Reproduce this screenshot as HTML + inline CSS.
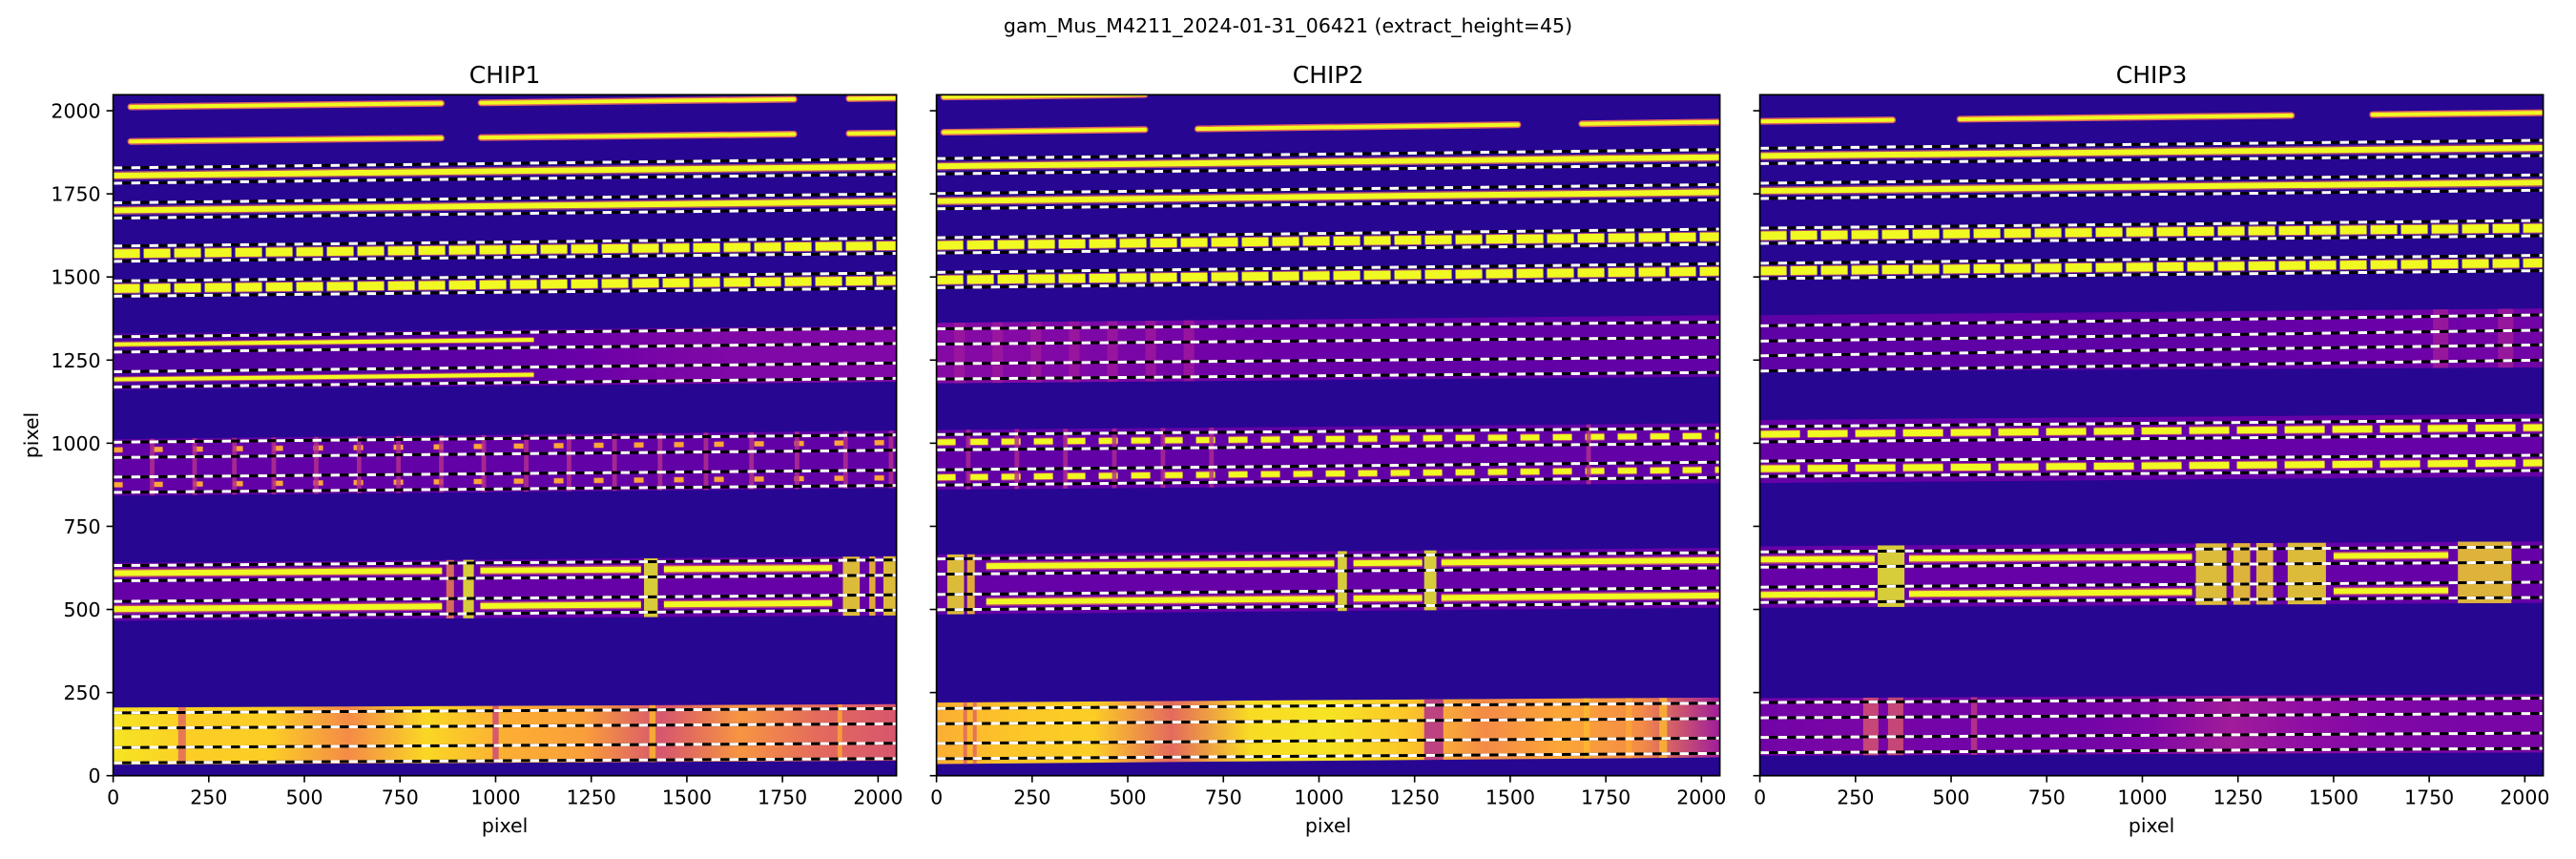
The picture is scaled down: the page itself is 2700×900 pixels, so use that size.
<!DOCTYPE html>
<html><head><meta charset="utf-8"><title>gam_Mus trace plot</title>
<style>
html,body{margin:0;padding:0;background:#fff;}
svg{display:block;}
text{font-family:"DejaVu Sans","Liberation Sans",sans-serif;fill:#000;}
</style></head>
<body>
<svg id="fig" xmlns="http://www.w3.org/2000/svg" width="2700" height="900" viewBox="0 0 2700 900">
<rect x="0" y="0" width="2700" height="900" fill="#fff"/>
<defs id="defs"></defs>
<text x="1350" y="34" font-size="20.5" text-anchor="middle">gam_Mus_M4211_2024-01-31_06421  (extract_height=45)</text>
<g id="plots"></g>
</svg>
<script>
const chipNames = ["CHIP1", "CHIP2", "CHIP3"];
const tickValues = [0, 250, 500, 750, 1000, 1250, 1500, 1750, 2000];
const plainStart = [[2011, 1907], [2041, 1935], [1968]];
const plainEnd = [[2038, 1933], [2070, 1966], [1994]];
const plainSegs = [
  [[[46, 858], [962, 1780], [1924, 2048]], [[46, 858], [962, 1780], [1924, 2048]]],
  [[[19, 545]], [[19, 545], [683, 1520], [1687, 2048]]],
  [[[5, 347], [523, 1390], [1602, 2048]]]
];
const apStart = [
  [1805, 1700, 1570, 1465, 1297, 1192, 980, 875, 609, 501, 166, 61.5],
  [1833, 1728, 1595, 1491, 1321, 1216, 1003, 897, 629, 522, 179, 74],
  [1864, 1759, 1624, 1518, 1330, 1240, 1027, 923, 650, 544, 197, 92]
];
const apEnd = [
  [1832, 1727, 1594, 1489, 1323, 1218, 1002, 896, 626, 521, 179, 74.5],
  [1860, 1755, 1621, 1517, 1341, 1236, 1022, 920, 648, 542, 195, 90],
  [1888, 1784, 1647, 1542, 1363, 1273, 1047, 941, 665, 559, 210, 105]
];
const apStyle = [
  ["solid", "solid", "blob", "blob", "fade", "fade", "dot", "dot", "seg", "seg", "none", "none"],
  ["solid", "solid", "blob", "blob", "none", "none", "blob2", "blob2", "seg", "seg", "none", "none"],
  ["solid", "solid", "blob", "blob", "none", "none", "blob3", "blob3", "seg", "seg", "none", "none"]
];
const apSegs = [
  [[0, 860], [960, 1380], [1440, 1880]],
  [[130, 1040], [1090, 1270], [1320, 2048]],
  [[0, 300], [390, 1130], [1500, 1800]]
];
const halfHeight = 23;
const bandBot0 = [[1160, 842, 466, 33], [1180, 860, 485, 35], [1215, 880, 505, 60]];
const bandTop0 = [[1330, 1012, 640, 205], [1362, 1040, 665, 220], [1385, 1070, 690, 233]];
const bandBot1 = [[1185, 865, 482, 45], [1200, 880, 505, 55], [1228, 900, 520, 70]];
const bandTop1 = [[1352, 1038, 660, 215], [1385, 1060, 685, 235], [1405, 1088, 705, 245]];
const bandProfile = [
  [[0.13, 0.13, 0.14, 0.15, 0.16, 0.17, 0.2, 0.24, 0.26, 0.26, 0.26],
   [0.18, 0.18, 0.18, 0.18, 0.18, 0.18, 0.18, 0.18, 0.18, 0.18, 0.18],
   [0.19, 0.19, 0.19, 0.19, 0.19, 0.19, 0.19, 0.19, 0.19, 0.19, 0.19],
   [0.95, 0.9, 0.9, 0.72, 0.92, 0.82, 0.78, 0.55, 0.75, 0.62, 0.55]],
  [[0.27, 0.27, 0.25, 0.23, 0.21, 0.2, 0.19, 0.18, 0.18, 0.18, 0.18],
   [0.18, 0.18, 0.18, 0.18, 0.18, 0.18, 0.18, 0.18, 0.18, 0.18, 0.18],
   [0.19, 0.19, 0.19, 0.19, 0.19, 0.19, 0.19, 0.19, 0.19, 0.19, 0.19],
   [0.82, 0.88, 0.9, 0.62, 0.93, 0.95, 0.88, 0.72, 0.8, 0.72, 0.35]],
  [[0.17, 0.17, 0.17, 0.17, 0.17, 0.17, 0.18, 0.19, 0.2, 0.22, 0.22],
   [0.19, 0.19, 0.19, 0.19, 0.19, 0.19, 0.19, 0.19, 0.19, 0.19, 0.19],
   [0.19, 0.19, 0.19, 0.19, 0.19, 0.19, 0.19, 0.19, 0.19, 0.19, 0.19],
   [0.22, 0.24, 0.23, 0.22, 0.22, 0.26, 0.35, 0.3, 0.26, 0.24, 0.24]]
];
const featX = [
  [102, 213, 317, 420, 531, 643, 746, 858, 969, 1080, 1192, 1311, 1430, 1550, 1669, 1788, 1915, 2034,
   881, 929, 1406, 1930, 1985, 2030, 180, 1000, 1410, 1900],
  [60, 160, 260, 360, 460, 560, 660, 83, 210, 337, 465, 592, 719, 1705, 50, 90, 1061, 1291, 75, 100, 1300, 1700, 1810, 1900],
  [343, 1180, 1260, 1320, 1430, 1895, 290, 355, 560, 1780, 1950]
];
const featHW = [
  [6, 6, 6, 6, 6, 6, 6, 6, 6, 6, 6, 6, 6, 6, 6, 6, 6, 6, 10, 14, 18, 22, 8, 16, 10, 8, 8, 6],
  [14, 14, 14, 14, 14, 14, 14, 6, 6, 6, 6, 6, 6, 6, 22, 10, 12, 16, 5, 5, 25, 8, 8, 10],
  [35, 40, 22, 22, 50, 70, 20, 20, 8, 20, 20]
];
const featBand = [
  [1, 1, 1, 1, 1, 1, 1, 1, 1, 1, 1, 1, 1, 1, 1, 1, 1, 1, 2, 2, 2, 2, 2, 2, 3, 3, 3, 3],
  [0, 0, 0, 0, 0, 0, 0, 1, 1, 1, 1, 1, 1, 1, 2, 2, 2, 2, 3, 3, 3, 3, 3, 3],
  [2, 2, 2, 2, 2, 2, 3, 3, 3, 0, 0]
];
const featInt = [
  [0.42, 0.42, 0.42, 0.42, 0.42, 0.42, 0.42, 0.42, 0.42, 0.42, 0.42, 0.42, 0.42, 0.42, 0.42, 0.42, 0.42, 0.42,
   0.7, 1.0, 1.0, 0.95, 0.9, 0.95, 0.6, 0.5, 0.85, 0.8],
  [0.34, 0.34, 0.34, 0.34, 0.34, 0.34, 0.34, 0.4, 0.4, 0.4, 0.4, 0.4, 0.4, 0.42, 0.95, 0.9, 1.0, 1.0, 0.6, 0.6, 0.4, 0.85, 0.8, 0.85],
  [1.0, 0.95, 0.93, 0.93, 0.95, 0.93, 0.55, 0.55, 0.45, 0.35, 0.35]
];

const NS = "http://www.w3.org/2000/svg";
const axLeft = [118.6, 981.6, 1844.6];
const AW = 821, TOP = 99.3, BOT = 812.7, NX = 2048, NY = 2048;
const plasmaStops = ["#0d0887","#41049d","#6a00a8","#8f0da4","#b12a90","#cc4778","#e16462","#f2844b","#fca636","#fcce25","#f0f921"];
function hex(h){return [parseInt(h.substr(1,2),16),parseInt(h.substr(3,2),16),parseInt(h.substr(5,2),16)];}
function plasma(t){
  t=Math.max(0,Math.min(1,t));const f=t*10;const i=Math.min(9,Math.floor(f));const r=f-i;
  const a=hex(plasmaStops[i]),b=hex(plasmaStops[i+1]);
  return "rgb("+a.map((v,k)=>Math.round(v+(b[k]-v)*r)).join(",")+")";
}
function mk(tag, attrs, parent){
  const e=document.createElementNS(NS,tag);
  for(const k in attrs) e.setAttribute(k,attrs[k]);
  if(parent) parent.appendChild(e);
  return e;
}
function yAt(y0,y1,x){return y0+(y1-y0)*x/NX;}
const defs=document.getElementById("defs");
const plots=document.getElementById("plots");

for(let c=0;c<3;c++){
  const X=d=>axLeft[c]+d/NX*AW;
  const Y=d=>BOT-d/NY*(BOT-TOP);
  const g=mk("g",{},plots);
  
  
  const cp=mk("clipPath",{id:"clip"+c},defs);
  mk("rect",{x:axLeft[c],y:TOP,width:AW,height:BOT-TOP},cp);
  const img=mk("g",{"clip-path":"url(#clip"+c+")"},g);
  
  
  mk("rect",{x:axLeft[c],y:TOP,width:AW,height:BOT-TOP,fill:plasma(0.05)},img);

  for(let b=0;b<bandBot0[c].length;b++){
    const gid="grad"+c+"_"+b;
    const gr=mk("linearGradient",{id:gid,gradientUnits:"userSpaceOnUse",x1:X(0),y1:0,x2:X(NX),y2:0},defs);
    const prof=bandProfile[c][b];
    prof.forEach((v,i)=>mk("stop",{offset:i/(prof.length-1),"stop-color":plasma(v)},gr));
    const pts=[[X(0),Y(bandBot0[c][b])],[X(NX),Y(bandBot1[c][b])],[X(NX),Y(bandTop1[c][b])],[X(0),Y(bandTop0[c][b])]];
    const p=mk("polygon",{points:pts.map(q=>q.join(",")).join(" "),fill:"url(#"+gid+")"},img);
    
    
  }

  for(let t=0;t<plainStart[c].length;t++){
    plainSegs[c][t].forEach(s=>{
      const x1=X(s[0]),x2=X(s[1]),y1=Y(yAt(plainStart[c][t],plainEnd[c][t],s[0])),y2=Y(yAt(plainStart[c][t],plainEnd[c][t],s[1]));
      mk("line",{x1,y1,x2,y2,stroke:"#e16462","stroke-width":7,"stroke-linecap":"round"},img);
      const l=mk("line",{x1,y1,x2,y2,stroke:"#f0f921","stroke-width":4,"stroke-linecap":"round"},img);
      
      
    });
  }

  for(let t=0;t<apStart[c].length;t++){
    const st=apStyle[c][t];
    const y0=apStart[c][t],y1=apEnd[c][t];
    let segs=[[0,NX]];
    if(st==="none") continue;
    if(st==="seg") segs=apSegs[c];
    if(st==="fade") segs=[[0,1100]];
    segs.forEach(s=>{
      const a={x1:X(s[0]),y1:Y(yAt(y0,y1,s[0])),x2:X(s[1]),y2:Y(yAt(y0,y1,s[1]))};
      let core="#f0f921",w=6,dash=null,glow=9;
      if(st==="blob"){w=9;glow=11;dash="28 4";}
      if(st==="dot"){core="#fca636";w=5;glow=6;dash="10 32";}
      if(st==="blob2"){w=6;glow=8;dash="20 14";}
      if(st==="blob3"){w=7;glow=9;dash="42 8";}
      if(st==="fade"){w=4;glow=6;}
      const ga=Object.assign({stroke:"#e16462","stroke-width":glow,opacity:0.7},a);
      if(dash) ga["stroke-dasharray"]=dash;
      mk("line",ga,img);
      const ca=Object.assign({stroke:core,"stroke-width":w},a);
      if(dash) ca["stroke-dasharray"]=dash;
      const l=mk("line",ca,img);
      
      
    });
  }

  for(let f=0;f<featX[c].length;f++){
    const b=featBand[c][f],x=featX[c][f],hw=featHW[c][f];
    const bl=yAt(bandBot0[c][b],bandBot1[c][b],x),tp=yAt(bandTop0[c][b],bandTop1[c][b],x);
    const r=mk("rect",{x:X(x-hw),y:Y(tp),width:X(x+hw)-X(x-hw),height:Y(bl)-Y(tp),fill:plasma(featInt[c][f]),opacity:0.82},img);
    
    
  }

  for(let t=0;t<apStart[c].length;t++){
    [-halfHeight,halfHeight].forEach(o=>{
      const a={x1:X(0),y1:Y(apStart[c][t]+o),x2:X(NX),y2:Y(apEnd[c][t]+o)};
      mk("line",Object.assign({stroke:"#000","stroke-width":3},a),img);
      const l=mk("line",Object.assign({stroke:"#fff","stroke-width":3,"stroke-dasharray":"9.5 9.5"},a),img);
      
      
    });
  }

  const sp=mk("rect",{x:axLeft[c],y:TOP,width:AW,height:BOT-TOP,fill:"none",stroke:"#000","stroke-width":1.7},g);
  
  

  tickValues.forEach(v=>{
    const xt=mk("line",{x1:X(v),y1:BOT,x2:X(v),y2:BOT+7,stroke:"#000","stroke-width":1.6},g);
    
    
    const xl=mk("text",{x:X(v),y:BOT+30,"font-size":20.5,"text-anchor":"middle"},g);
    xl.textContent=v;
    
    
    const yt=mk("line",{x1:axLeft[c]-7,y1:Y(v),x2:axLeft[c],y2:Y(v),stroke:"#000","stroke-width":1.6},g);
    
    
    if(c===0){
      const yl=mk("text",{x:axLeft[c]-13,y:Y(v)+7.5,"font-size":20.5,"text-anchor":"end"},g);
      yl.textContent=v;
      
      
    }
  });
  const xlab=mk("text",{x:axLeft[c]+AW/2,y:872,"font-size":20.5,"text-anchor":"middle"},g);
  xlab.textContent="pixel";
  
  
  const ttl=mk("text",{x:axLeft[c]+AW/2,y:87,"font-size":25,"text-anchor":"middle"},g);
  ttl.textContent=chipNames[c];
  
  
}
const ylab=mk("text",{x:0,y:0,"font-size":20.5,"text-anchor":"middle",transform:"translate(40,456) rotate(-90)"},plots);
ylab.textContent="pixel";


</script>
</body></html>
